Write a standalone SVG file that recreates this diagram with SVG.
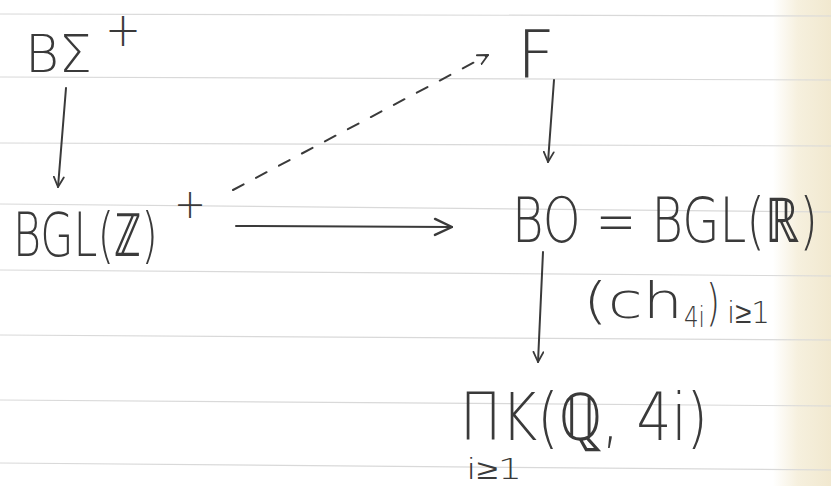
<svg xmlns="http://www.w3.org/2000/svg" width="831" height="486" viewBox="0 0 831 486">
<defs>
<linearGradient id="paper" x1="0" y1="0" x2="1" y2="0">
<stop offset="0" stop-color="#ffffff"/>
<stop offset="0.93" stop-color="#ffffff"/>
<stop offset="0.96" stop-color="#f6f0de"/>
<stop offset="1" stop-color="#f1e8cf"/>
</linearGradient>
<marker id="arr" viewBox="0 0 12 12" refX="11" refY="6" markerWidth="12" markerHeight="12" markerUnits="userSpaceOnUse" orient="auto">
<path d="M1,1 L11,6 L1,11" fill="none" stroke="#3a3a3a" stroke-width="1.8" stroke-linecap="round" stroke-linejoin="round"/>
</marker>
<marker id="arrBig" viewBox="0 0 20 20" refX="19" refY="10" markerWidth="20" markerHeight="20" markerUnits="userSpaceOnUse" orient="auto">
<path d="M2,2 L19,10 L2,18" fill="none" stroke="#3a3a3a" stroke-width="2.4" stroke-linecap="round" stroke-linejoin="round"/>
</marker>
</defs>
<style>
.hw{font-family:"DejaVu Sans","Liberation Sans",sans-serif;font-weight:200;fill:#3a3a3a}
.rule{stroke:#d9d9d9;stroke-width:1.2}
.edge{fill:none;stroke:#3a3a3a;stroke-width:2;stroke-linecap:round}
</style>
<rect x="0" y="0" width="831" height="486" fill="url(#paper)"/>
<g id="rules">
<line class="rule" x1="0" y1="14" x2="831" y2="16"/>
<line class="rule" x1="0" y1="77" x2="831" y2="80"/>
<line class="rule" x1="0" y1="143" x2="831" y2="146"/>
<line class="rule" x1="0" y1="204" x2="831" y2="212"/>
<line class="rule" x1="0" y1="270" x2="831" y2="276"/>
<line class="rule" x1="0" y1="335" x2="831" y2="340"/>
<line class="rule" x1="0" y1="400" x2="831" y2="406"/>
<line class="rule" x1="0" y1="463" x2="831" y2="470"/>
</g>
<g id="connectors">
<path class="edge" d="M66,88 L58,187" marker-end="url(#arr)"/>
<path class="edge" d="M554,80 L548,162" marker-end="url(#arr)"/>
<path class="edge" d="M543,252 L538,362" marker-end="url(#arr)"/>
<path class="edge" d="M236,226 L452,227" stroke-width="3.5" marker-end="url(#arrBig)"/>
<path class="edge" d="M233,190 L488,55" stroke-dasharray="12,14" marker-end="url(#arr)"/>
</g>
<g id="node-BSigma">
<text class="hw" font-size="52"><tspan x="25" y="72" textLength="67" lengthAdjust="spacingAndGlyphs">BΣ</tspan><tspan x="105" y="46" font-size="48" textLength="36" lengthAdjust="spacingAndGlyphs">+</tspan></text>
</g>
<g id="node-BGLZ">
<text class="hw" font-size="60"><tspan x="13" y="256" textLength="145" lengthAdjust="spacingAndGlyphs">BGL(ℤ)</tspan><tspan x="174" y="218" font-size="40" textLength="32" lengthAdjust="spacingAndGlyphs">+</tspan></text>
</g>
<g id="node-F">
<text class="hw" x="517" y="77" font-size="66" textLength="38" lengthAdjust="spacingAndGlyphs">F</text>
</g>
<g id="node-BO">
<text class="hw" x="512" y="242" font-size="62" textLength="306" lengthAdjust="spacingAndGlyphs">BO = BGL(ℝ)</text>
</g>
<g id="label-ch">
<text class="hw" font-size="50"><tspan x="583" y="318" textLength="100" lengthAdjust="spacingAndGlyphs">(ch</tspan><tspan x="684" y="327" font-size="28" textLength="21" lengthAdjust="spacingAndGlyphs">4i</tspan><tspan x="706" y="320" textLength="14" lengthAdjust="spacingAndGlyphs">)</tspan><tspan x="727" y="323" font-size="30" textLength="43" lengthAdjust="spacingAndGlyphs">i≥1</tspan></text>
</g>
<g id="node-K">
<text class="hw" x="460" y="440" font-size="66" textLength="248" lengthAdjust="spacingAndGlyphs">ΠK(ℚ, 4i)</text>
<text class="hw" x="466" y="479" font-size="28" textLength="56" lengthAdjust="spacingAndGlyphs">i≥1</text>
</g>
</svg>
